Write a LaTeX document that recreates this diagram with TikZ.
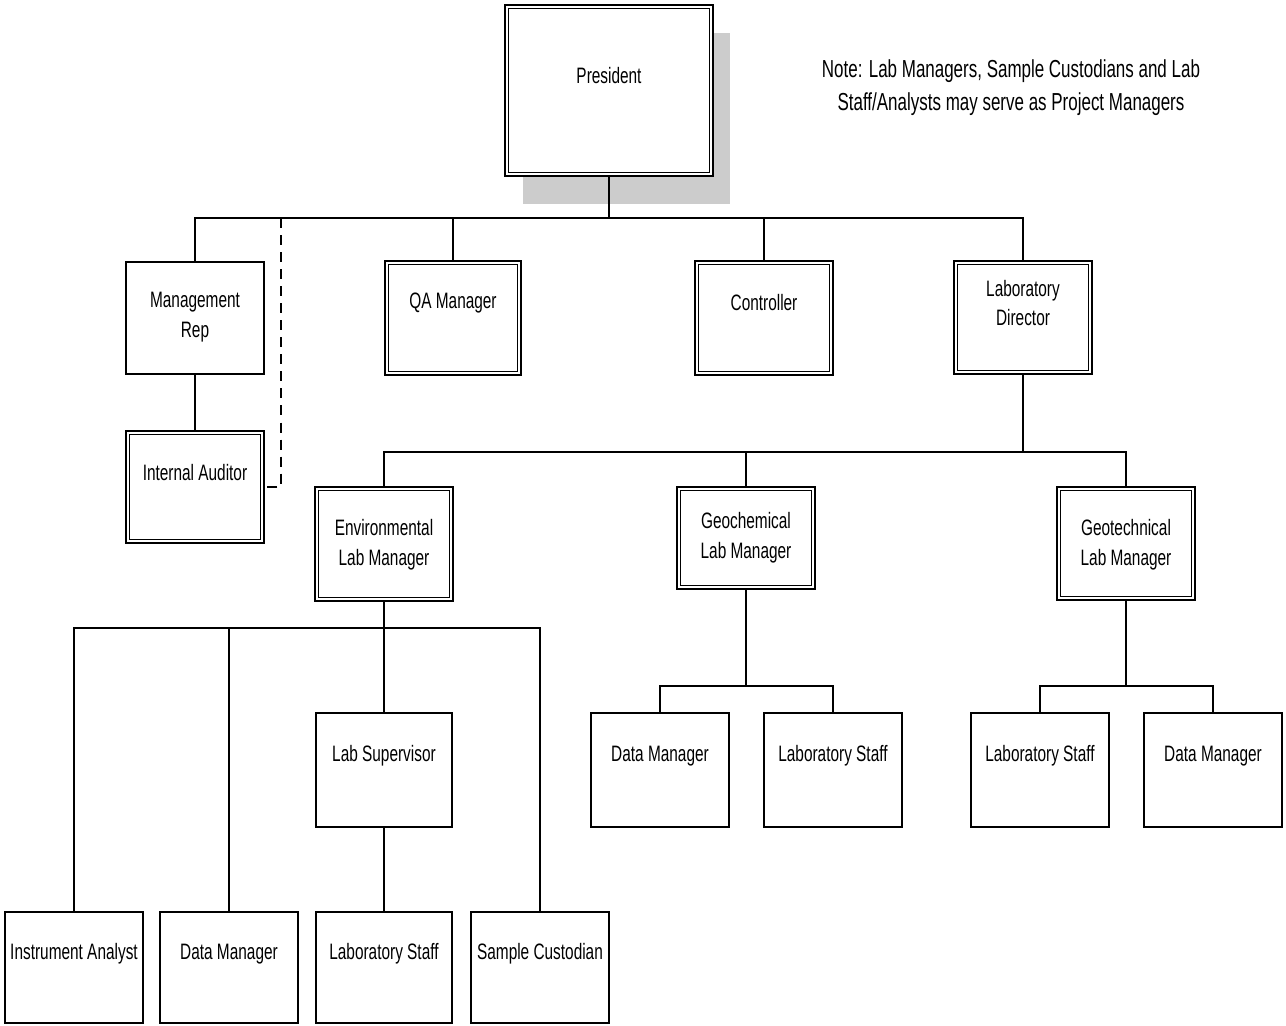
\documentclass[tikz,border=0pt]{standalone}
\usepackage{fontspec}
\setmainfont[FakeStretch=0.69]{Liberation Sans}
\usetikzlibrary{calc,backgrounds}
\newcommand\orgfont{\fontsize{12.7}{17}\selectfont}
\newcommand\notefont{\fontsize{14}{18.8}\selectfont}
\tikzset{
  conn/.style={line width=1pt},
  box/.style 2 args={draw, line width=0.95pt, fill=white, inner sep=0pt,
                     minimum width=#1, minimum height=#2},
  dbox/.style 2 args={box={#1-2pt}{#2-2pt}, double, double distance=1.1pt},
  lbl/.style={font=\orgfont, align=center, inner sep=0pt},
  shadowfill/.style={fill=black!20},
}
% #1 style, #2 name, #3 x1, #4 y1, #5 x2, #6 y2, #7 text, #8 text y
\newcommand\orgbox[8]{%
  \node[#1={(#5-#3)*0.02cm}{(#6-#4)*0.02cm}] (#2) at ({(#3+#5)/2},{(#4+#6)/2}) {};
  \node[lbl] (#2-t) at ({(#3+#5)/2},#8) {#7};
}
\begin{document}
\begin{tikzpicture}[x=0.02cm,y=-0.02cm]
\useasboundingbox (0,0) rectangle (1286,1026);

% level 0
\orgbox{dbox}{pres}{505}{5}{713}{176}{President}{76}
\begin{scope}[on background layer]
  \fill[shadowfill] ($(pres.north west)+(17,27)$) rectangle ($(pres.south east)+(18,29)$);
\end{scope}

% level 1
\orgbox{box}{mr}{126}{262}{264}{374}{Management\\Rep}{317}
\orgbox{dbox}{ia}{126}{431}{264}{543}{Internal Auditor}{473}
\orgbox{dbox}{qa}{385}{261}{521}{375}{QA Manager}{303}
\orgbox{dbox}{ctl}{695}{261}{833}{375}{Controller}{303}
\orgbox{dbox}{ld}{954}{261}{1092}{374}{Laboratory\\Director}{303}

% level 2
\orgbox{dbox}{env}{315}{487}{453}{601}{Environmental\\Lab Manager}{545}
\orgbox{dbox}{gch}{677}{487}{815}{589}{Geochemical\\Lab Manager}{538}
\orgbox{dbox}{gtc}{1057}{487}{1195}{600}{Geotechnical\\Lab Manager}{545}

% level 3 (environmental)
\orgbox{box}{lsup}{316}{713}{452}{827}{Lab Supervisor}{756}
\orgbox{box}{ian}{5}{912}{143}{1023}{Instrument Analyst}{954}
\orgbox{box}{dm1}{160}{912}{298}{1023}{Data Manager}{954}
\orgbox{box}{lst1}{316}{912}{452}{1023}{Laboratory Staff}{954}
\orgbox{box}{sc}{471}{912}{609}{1023}{Sample Custodian}{954}

% level 3 (geochemical)
\orgbox{box}{dm2}{591}{713}{729}{827}{Data Manager}{756}
\orgbox{box}{lst2}{764}{713}{902}{827}{Laboratory Staff}{756}

% level 3 (geotechnical)
\orgbox{box}{lst3}{971}{713}{1109}{827}{Laboratory Staff}{756}
\orgbox{box}{dm3}{1144}{713}{1282}{827}{Data Manager}{756}

% note
\node[font=\notefont, align=center, inner sep=0pt] (note) at (1011,88)
  {Note: Lab Managers, Sample Custodians and Lab\\Staff/Analysts may serve as Project Managers};

% bus levels
\coordinate (bus1) at (0,218);
\coordinate (bus2) at (0,452);
\coordinate (bus3) at (0,628);
\coordinate (bus4) at (0,686);
\coordinate (dtop) at (281,218);

\begin{scope}[on background layer]
  \draw[conn] (pres.south) -- (pres.south |- bus1);
  \draw[conn] (mr.north) -- (mr.north |- bus1) -- (ld.north |- bus1) -- (ld.north);
  \draw[conn] (qa.north) -- (qa.north |- bus1);
  \draw[conn] (ctl.north) -- (ctl.north |- bus1);
  \draw[conn] (mr.south) -- (ia.north);
  \draw[conn, dash pattern=on 5.7pt off 4pt] (dtop) |- (ia.east);

  \draw[conn] (ld.south) -- (ld.south |- bus2);
  \draw[conn] (env.north) -- (env.north |- bus2) -- (gtc.north |- bus2) -- (gtc.north);
  \draw[conn] (gch.north) -- (gch.north |- bus2);

  \draw[conn] (env.south) -- (env.south |- bus3);
  \draw[conn] (ian.north) -- (ian.north |- bus3) -- (sc.north |- bus3) -- (sc.north);
  \draw[conn] (dm1.north) -- (dm1.north |- bus3);
  \draw[conn] (lsup.north) -- (lsup.north |- bus3);
  \draw[conn] (lsup.south) -- (lst1.north);

  \draw[conn] (gch.south) -- (gch.south |- bus4);
  \draw[conn] (dm2.north) -- (dm2.north |- bus4) -- (lst2.north |- bus4) -- (lst2.north);

  \draw[conn] (gtc.south) -- (gtc.south |- bus4);
  \draw[conn] (lst3.north) -- (lst3.north |- bus4) -- (dm3.north |- bus4) -- (dm3.north);
\end{scope}
\end{tikzpicture}
\end{document}
